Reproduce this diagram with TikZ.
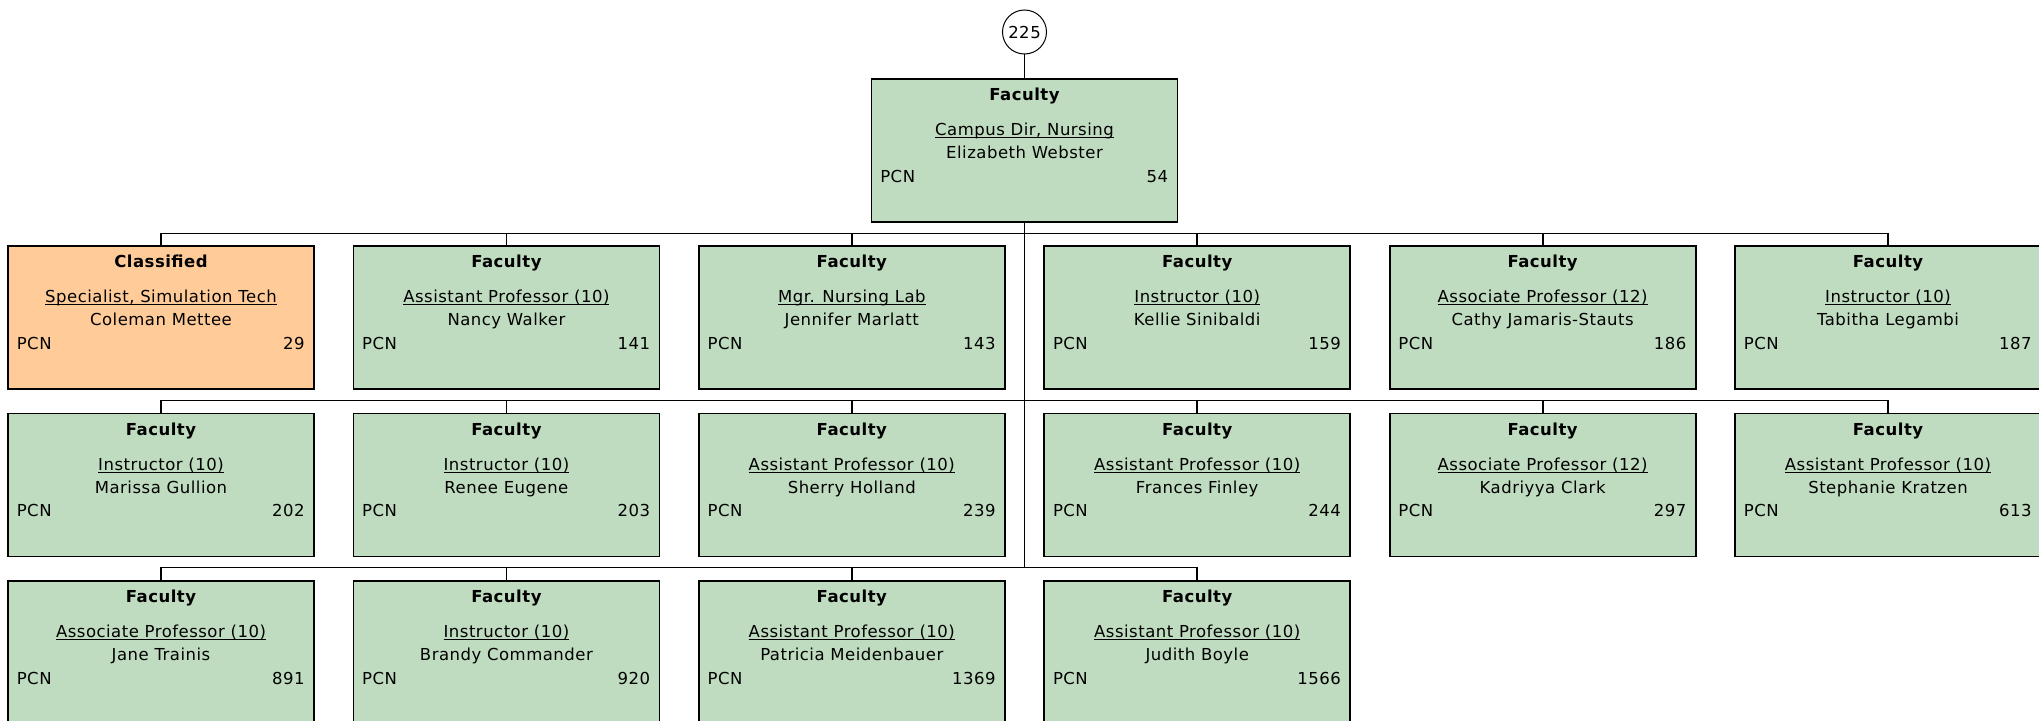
\documentclass[tikz,border=0pt]{standalone}
\usepackage{fontspec}
\setmainfont[LetterSpace=3]{DejaVu Sans}
\usetikzlibrary{positioning}

\definecolor{facgreen}{HTML}{C0DCC0}
\definecolor{clsorange}{HTML}{FFCC99}

% 带下划线的职位名称
\newcommand{\undertitle}[1]{\setbox0\hbox{#1}\rlap{\rule[-2.4pt]{\wd0}{1.1pt}}\box0}

% 一个职位框：名称, x, 上边 y, 填充样式, 类别, 职位, 姓名, 编号
\newcommand{\posbox}[8]{%
  \node[box,#4,anchor=north] (#1) at (#2,#3) {};
  \path (#1.north) ++(0,22.7) node[txt,font=\boxfont\bfseries] (#1-cat) {#5};
  \path (#1.north) ++(0,57.7) node[txt] (#1-tit) {\undertitle{#6}};
  \path (#1.north) ++(0,80.7) node[txt] (#1-nam) {#7};
  \path (#1.north west) ++(9.5,104) node[txt,anchor=base west] (#1-pcn) {PCN};
  \path (#1.north east) ++(-10,104) node[txt,anchor=base east] (#1-no) {#8};
}
\newcommand{\boxfont}{\fontsize{16.5pt}{20pt}\selectfont}

\begin{document}
\begin{tikzpicture}[
    % 像素坐标，y 轴向下
    x=1pt, y=-1pt,
    box/.style={rectangle, draw=black, line width=1.8pt,
      minimum width=306pt, minimum height=143pt, inner sep=0pt},
    faculty/.style={fill=facgreen},
    classified/.style={fill=clsorange},
    txt/.style={anchor=base, inner sep=0pt, font=\boxfont},
    link/.style={draw=black, line width=1.8pt},
    line cap=rect,
  ]
  \useasboundingbox (0,0) rectangle (2039,720);

  % 顶部计数
  \node[circle, draw=black, line width=1pt, minimum size=44pt, inner sep=0pt,
    font=\boxfont] (count) at (1024.5,32) {225};

  % 负责人
  \posbox{webster}{1024.5}{78}{faculty}{Faculty}{Campus Dir, Nursing}{Elizabeth Webster}{54}
  \draw[link] (count) -- (webster);

  % 第一行
  \posbox{mettee}{161}{245}{classified}{Classified}{Specialist, Simulation Tech}{Coleman Mettee}{29}
  \posbox{walker}{506.4}{245}{faculty}{Faculty}{Assistant Professor (10)}{Nancy Walker}{141}
  \posbox{marlatt}{851.8}{245}{faculty}{Faculty}{Mgr. Nursing Lab}{Jennifer Marlatt}{143}
  \posbox{sinibaldi}{1197.2}{245}{faculty}{Faculty}{Instructor (10)}{Kellie Sinibaldi}{159}
  \posbox{jamaris}{1542.6}{245}{faculty}{Faculty}{Associate Professor (12)}{Cathy Jamaris-Stauts}{186}
  \posbox{legambi}{1888}{245}{faculty}{Faculty}{Instructor (10)}{Tabitha Legambi}{187}

  % 第二行
  \posbox{gullion}{161}{412.5}{faculty}{Faculty}{Instructor (10)}{Marissa Gullion}{202}
  \posbox{eugene}{506.4}{412.5}{faculty}{Faculty}{Instructor (10)}{Renee Eugene}{203}
  \posbox{holland}{851.8}{412.5}{faculty}{Faculty}{Assistant Professor (10)}{Sherry Holland}{239}
  \posbox{finley}{1197.2}{412.5}{faculty}{Faculty}{Assistant Professor (10)}{Frances Finley}{244}
  \posbox{clark}{1542.6}{412.5}{faculty}{Faculty}{Associate Professor (12)}{Kadriyya Clark}{297}
  \posbox{kratzen}{1888}{412.5}{faculty}{Faculty}{Assistant Professor (10)}{Stephanie Kratzen}{613}

  % 第三行
  \posbox{trainis}{161}{580}{faculty}{Faculty}{Associate Professor (10)}{Jane Trainis}{891}
  \posbox{commander}{506.4}{580}{faculty}{Faculty}{Instructor (10)}{Brandy Commander}{920}
  \posbox{meidenbauer}{851.8}{580}{faculty}{Faculty}{Assistant Professor (10)}{Patricia Meidenbauer}{1369}
  \posbox{boyle}{1197.2}{580}{faculty}{Faculty}{Assistant Professor (10)}{Judith Boyle}{1566}

  % 连线：主干与各行横线
  \coordinate (bus1) at (1024.5,233.5);
  \coordinate (bus2) at (1024.5,400.5);
  \coordinate (bus3) at (1024.5,567.5);
  \draw[link] (webster.south) -- (bus3);
  \draw[link] (mettee.north |- bus1) -- (legambi.north |- bus1);
  \draw[link] (gullion.north |- bus2) -- (kratzen.north |- bus2);
  \draw[link] (trainis.north |- bus3) -- (boyle.north |- bus3);

  % 竖直短线
  \draw[link] (mettee.north) -- (mettee.north |- bus1);
  \draw[link] (walker.north) -- (walker.north |- bus1);
  \draw[link] (marlatt.north) -- (marlatt.north |- bus1);
  \draw[link] (sinibaldi.north) -- (sinibaldi.north |- bus1);
  \draw[link] (jamaris.north) -- (jamaris.north |- bus1);
  \draw[link] (legambi.north) -- (legambi.north |- bus1);
  \draw[link] (gullion.north) -- (gullion.north |- bus2);
  \draw[link] (eugene.north) -- (eugene.north |- bus2);
  \draw[link] (holland.north) -- (holland.north |- bus2);
  \draw[link] (finley.north) -- (finley.north |- bus2);
  \draw[link] (clark.north) -- (clark.north |- bus2);
  \draw[link] (kratzen.north) -- (kratzen.north |- bus2);
  \draw[link] (trainis.north) -- (trainis.north |- bus3);
  \draw[link] (commander.north) -- (commander.north |- bus3);
  \draw[link] (meidenbauer.north) -- (meidenbauer.north |- bus3);
  \draw[link] (boyle.north) -- (boyle.north |- bus3);
\end{tikzpicture}
\end{document}
